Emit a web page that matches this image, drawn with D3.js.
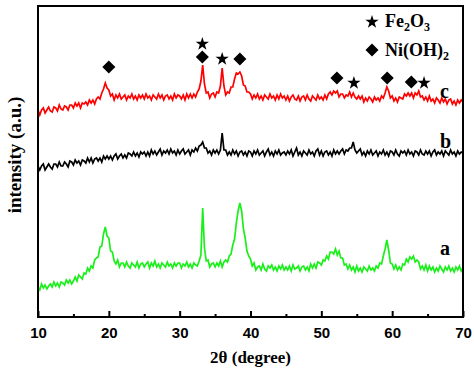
<!DOCTYPE html>
<html>
<head>
<meta charset="utf-8">
<style>
  body { margin: 0; background: #fff; }
  svg { display: block; }
</style>
</head>
<body>
<svg width="474" height="370"></svg>
<script src="https://d3js.org/d3.v7.min.js"></script>
<script>

// 2theta grid : 10 -> 70 deg, step 0.25
var twoTheta = d3.range(0, 241).map(function(i) { return 10 + i * 0.25; });

// intensity (arbitrary units)
var seriesA = [
  30,27,33,29,32,28,31,33,30,35,31,34,30,35,34,32,37,34,37,33,
  36,40,36,42,40,38,44,43,49,46,51,49,57,59,60,70,71,83,90,81,
  79,66,65,56,53,57,50,54,54,50,55,51,49,54,52,50,55,49,53,54,
  50,53,55,49,54,51,56,50,53,49,54,52,50,55,51,53,49,54,51,54,
  54,49,53,51,55,50,53,49,54,52,51,56,62,109,69,56,57,50,53,54,
  50,54,51,56,50,55,57,55,61,63,72,78,94,106,114,106,88,79,66,61,
  58,51,54,47,50,51,47,53,48,46,51,49,52,47,50,46,51,48,52,47,
  50,47,51,46,52,48,49,51,46,50,51,47,50,46,53,49,53,49,55,54,
  52,57,56,61,58,65,65,63,68,62,66,59,59,52,53,48,52,47,50,45,
  51,46,49,45,50,48,46,51,47,49,46,51,49,54,53,61,68,77,67,54,
  53,48,52,47,50,47,53,52,58,55,60,58,61,55,57,55,48,51,47,52,
  46,51,47,50,45,49,46,51,48,45,50,47,51,46,49,45,50,47,51,46,
  49
];

var seriesB = [
  151,147,151,153,147,150,153,150,148,153,153,150,155,151,151,155,153,150,156,155,
  152,157,154,156,152,157,156,154,159,155,159,154,158,159,156,159,155,161,158,161,
  158,161,157,161,163,158,161,163,159,162,159,164,163,161,165,161,164,160,165,163,
  165,161,165,161,167,163,166,162,165,168,162,166,164,167,163,168,164,166,162,167,
  163,166,168,163,165,167,162,167,165,169,166,171,172,175,169,169,164,166,162,167,
  164,167,163,167,184,167,167,162,165,162,167,163,166,161,165,166,162,165,161,166,
  165,161,166,163,167,162,164,166,161,165,168,162,165,161,166,163,167,162,164,165,
  162,166,163,167,161,165,169,162,165,161,166,164,162,167,163,165,161,166,168,162,
  166,161,165,166,162,165,161,167,163,166,163,166,168,163,167,166,169,169,175,167,
  164,166,168,162,165,161,166,163,167,162,164,166,161,165,163,167,162,165,161,166,
  165,162,167,163,161,166,164,166,162,167,163,165,161,166,165,162,167,163,162,166,
  163,166,161,165,167,162,165,163,166,161,166,164,162,167,163,165,161,166,163,165,
  164
];

var seriesC = [
  207,202,207,209,204,207,210,206,205,210,209,206,212,208,207,211,210,207,212,212,
  209,214,211,214,209,214,213,215,212,217,214,217,213,218,220,218,224,228,234,229,
  227,221,223,217,222,219,223,218,220,222,217,221,219,223,218,221,217,222,219,222,
  218,223,219,221,217,222,220,218,223,219,222,217,221,222,218,221,217,223,219,222,
  221,218,222,217,223,219,223,219,223,220,225,228,236,252,233,224,225,219,223,224,
  220,225,224,231,249,231,222,225,224,230,230,238,244,243,245,241,232,231,225,225,
  223,218,222,219,223,218,221,217,222,220,218,223,219,221,217,222,218,223,219,221,
  217,221,216,220,222,218,217,221,216,220,221,217,222,218,216,221,219,217,222,218,
  220,217,222,218,223,225,222,226,224,226,220,223,223,219,222,221,225,220,224,220,
  218,221,218,221,215,219,216,220,218,215,220,217,219,216,221,219,224,230,226,219,
  221,216,219,215,220,219,218,223,221,224,221,224,219,224,222,226,220,221,217,220,
  216,221,216,218,214,219,217,214,219,215,218,213,217,218,213,216,212,217,214,217,
  215
];

var seriesNames = ["a", "b", "c"];
var seriesColors = ["#19f019", "#000000", "#ff0000"];

// phase markers [2theta, level]
var starMarks = [[33.2, 273], [36.0, 258], [54.6, 234], [64.5, 234]];
var diamondMarks = [[20.0, 250], [33.2, 260], [38.5, 258], [52.2, 239], [59.3, 239], [62.7, 235]];

var majorTicks = [10, 20, 30, 40, 50, 60, 70];
var minorTicks = [15, 25, 35, 45, 55, 65];

var svg = d3.select("svg");
var padL = 38, padR = 463, padT = 6, padB = 317;

var x = d3.scaleLinear().domain([10, 70]).range([padL, padR]);
var y = d3.scaleLinear().domain([0, 311]).range([padB, padT]);

var line = d3.line()
    .x(function(d, i) { return x(twoTheta[i]); })
    .y(function(d) { return y(d); });

[seriesA, seriesB, seriesC].forEach(function(s, k) {
  svg.append("path")
      .datum(s)
      .attr("fill", "none")
      .attr("stroke", seriesColors[k])
      .attr("stroke-width", 1.7)
      .attr("d", line);
});

// frame
svg.append("rect")
    .attr("x", padL).attr("y", padT)
    .attr("width", padR - padL).attr("height", padB - padT)
    .attr("fill", "none").attr("stroke", "#000").attr("stroke-width", 2);

// inward ticks on the bottom axis
var gx = svg.append("g")
    .attr("transform", "translate(0," + padB + ")")
    .call(d3.axisBottom(x).tickValues(majorTicks).tickSize(-6).tickPadding(10).tickFormat(d3.format("d")));
gx.select(".domain").remove();
gx.selectAll("line").attr("stroke-width", 2);
gx.selectAll("text")
    .attr("font-family", "'Liberation Sans', Arial, sans-serif")
    .attr("font-weight", "bold")
    .attr("font-size", 15)
    .attr("fill", "#000");

var gm = svg.append("g")
    .attr("transform", "translate(0," + padB + ")")
    .call(d3.axisBottom(x).tickValues(minorTicks).tickSize(-3).tickFormat(""));
gm.select(".domain").remove();
gm.selectAll("line").attr("stroke-width", 2);

// axis titles
var serif = "'Liberation Serif', 'Times New Roman', serif";
svg.append("text")
    .attr("x", (padL + padR) / 2).attr("y", 363)
    .attr("text-anchor", "middle")
    .attr("font-family", serif).attr("font-weight", "bold").attr("font-size", 17)
    .text("2θ (degree)");

svg.append("text")
    .attr("transform", "translate(21,155) rotate(-90)")
    .attr("text-anchor", "middle")
    .attr("font-family", serif).attr("font-weight", "bold").attr("font-size", 19)
    .text("intensity (a.u.)");

// markers
var star = d3.symbol().type(d3.symbolStar).size(55);
var diamond = d3.symbol().type(d3.symbolSquare).size(85);

svg.selectAll(".star")
    .data(starMarks)
  .enter().append("path")
    .attr("class", "star")
    .attr("d", star)
    .attr("transform", function(d) { return "translate(" + x(d[0]) + "," + y(d[1]) + ")"; })
    .attr("fill", "#000");

svg.selectAll(".diamond")
    .data(diamondMarks)
  .enter().append("path")
    .attr("class", "diamond")
    .attr("d", diamond)
    .attr("transform", function(d) { return "translate(" + x(d[0]) + "," + y(d[1]) + ") rotate(45)"; })
    .attr("fill", "#000");

// series labels
var labelLevels = [62, 169, 219];
seriesNames.forEach(function(n, k) {
  svg.append("text")
      .attr("x", 440).attr("y", y(labelLevels[k]))
      .attr("font-family", serif).attr("font-weight", "bold").attr("font-size", 20)
      .text(n);
});

// legend
svg.append("path").attr("d", star).attr("transform", "translate(372,22)").attr("fill", "#000");
svg.append("path").attr("d", diamond).attr("transform", "translate(372,50) rotate(45)").attr("fill", "#000");

var t1 = svg.append("text")
    .attr("x", 385).attr("y", 27)
    .attr("font-family", serif).attr("font-weight", "bold").attr("font-size", 18);
t1.append("tspan").text("Fe");
t1.append("tspan").attr("font-size", 12).attr("dy", 4).text("2");
t1.append("tspan").attr("dy", -4).text("O");
t1.append("tspan").attr("font-size", 12).attr("dy", 4).text("3");

var t2 = svg.append("text")
    .attr("x", 385).attr("y", 56)
    .attr("font-family", serif).attr("font-weight", "bold").attr("font-size", 18);
t2.append("tspan").text("Ni(OH)");
t2.append("tspan").attr("font-size", 12).attr("dy", 4).text("2");

</script>
</body>
</html>
